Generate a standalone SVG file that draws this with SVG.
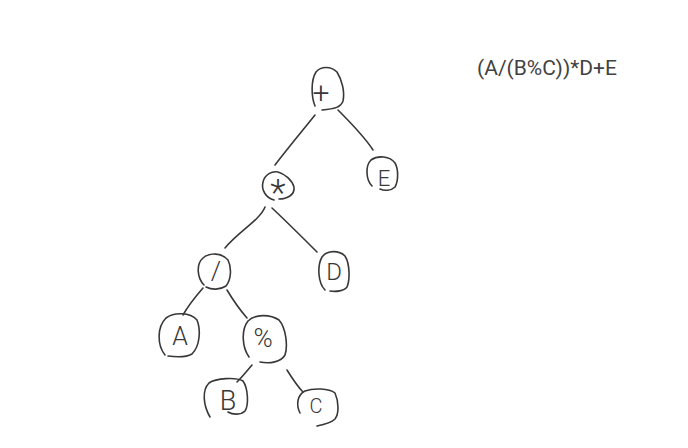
<svg xmlns="http://www.w3.org/2000/svg" width="688" height="448" viewBox="0 0 688 448">
  <style>
    .ink { fill: none; stroke: #383838; stroke-width: 1.6; stroke-linecap: round; stroke-linejoin: round; }
    .glyph { font-family: Roboto, "Liberation Sans", sans-serif; font-weight: 300; fill: #383838; text-anchor: middle; }
    .title { font-family: Roboto, "Liberation Sans", sans-serif; font-size: 21px; fill: #424242; }
  </style>
  <rect width="688" height="448" fill="#ffffff"/>

  <text class="title" x="477" y="75">(A/(B%C))*D+E</text>

  <!-- connectors -->
  <g id="edges" class="ink">
    <path d="M315,115 C303,130 288,148 275,165"/>
    <path d="M338,110 C350,122 364,136 373,150"/>
    <path d="M265,207 C260,220 238,232 225,248"/>
    <path d="M272,208 C287,222 303,238 317,252"/>
    <path d="M203,288 C196,296 188,306 183,315"/>
    <path d="M227,290 C233,300 240,310 247,318"/>
    <path d="M252,365 C247,371 242,377 237,382"/>
    <path d="M287,370 C292,378 297,386 303,392"/>
  </g>

  <!-- nodes -->
  <g id="node-plus">
    <path class="ink" d="M315,106 C311,96 311,80 316,72 C321,66 331,66 337,72 C342,80 345,92 343,101 C341,107 335,109 322,110"/>
    <text class="glyph" x="321" y="103" font-size="30">+</text>
  </g>
  <g id="node-times">
    <path class="ink" d="M274,200 C266,198 261,190 263,182 C265,174 272,171 278,172 C285,174 292,180 294,187 C295,195 287,199 279,199"/>
    <text class="glyph" x="278" y="205" font-size="36">*</text>
  </g>
  <g id="node-e">
    <path class="ink" d="M372,186 C366,180 365,166 371,160 C378,155 390,156 395,163 C399,170 398,182 395,187 C391,191 384,191 380,189"/>
    <text class="glyph" x="384" y="186" font-size="22">E</text>
  </g>
  <g id="node-div">
    <path class="ink" d="M204,285 C197,278 196,264 203,258 C210,252 222,253 228,260 C232,268 231,280 226,286 C220,290 212,290 206,287"/>
    <text class="glyph" x="216" y="280" font-size="26">/</text>
  </g>
  <g id="node-d">
    <path class="ink" d="M325,290 C318,283 317,266 322,257 C327,250 339,250 345,256 C350,264 350,280 347,287 C344,291 336,292 330,291"/>
    <text class="glyph" x="334" y="280" font-size="24">D</text>
  </g>
  <g id="node-a">
    <path class="ink" d="M165,355 C157,345 157,327 166,318 C174,312 190,312 197,320 C201,330 200,346 192,354 C185,358 175,357 168,356"/>
    <text class="glyph" x="180" y="345" font-size="25">A</text>
  </g>
  <g id="node-mod">
    <path class="ink" d="M249,357 C242,347 241,330 248,321 C255,314 270,314 279,320 C286,328 288,346 285,355 C281,362 270,364 260,362"/>
    <text class="glyph" x="263" y="347" font-size="26">%</text>
  </g>
  <g id="node-b">
    <path class="ink" d="M210,417 C203,405 202,390 209,383 C216,378 236,377 243,381 C248,388 249,405 245,411 C241,415 233,415 228,412"/>
    <text class="glyph" x="228" y="410" font-size="27">B</text>
  </g>
  <g id="node-c">
    <path class="ink" d="M300,413 C296,405 297,395 305,391 C313,388 329,388 335,393 C339,402 339,414 335,419 C331,423 322,425 317,426"/>
    <text class="glyph" x="316" y="413" font-size="20">C</text>
  </g>
</svg>
